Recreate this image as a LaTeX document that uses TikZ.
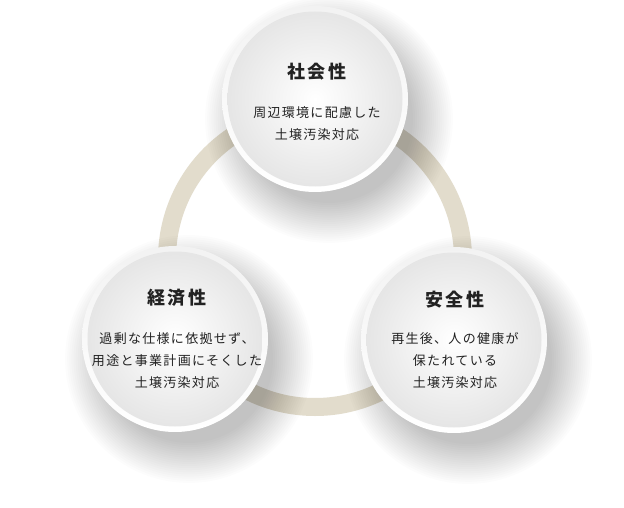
\documentclass[tikz,border=0pt]{standalone}
\usepackage{fontspec}
\newfontfamily\cjk{Noto Sans CJK JP}
\definecolor{ringc}{RGB}{226,220,204}
\definecolor{txt}{RGB}{34,34,34}
\tikzset{
  bubble/.style={circle, minimum size=186pt, inner sep=0pt, draw=none, top color=black!5, bottom color=white, shading angle=0},
  core/.style={circle, minimum size=175pt, inner sep=0pt, draw=none, inner color=white, outer color=black!10},
  ttl/.style={font=\cjk\bfseries\addfontfeature{LetterSpace=12}\fontsize{18}{22}\selectfont, text=txt, inner sep=0pt},
  body/.style={font=\cjk\addfontfeature{LetterSpace=10}\fontsize{13}{22}\selectfont, text=txt, align=center, inner sep=0pt},
}
\begin{document}
\begin{tikzpicture}[x=1pt,y=-1pt]
\useasboundingbox[fill=white] (0,0) rectangle (624,508);
\coordinate (ctr) at (315,259);
% ring
\draw[ringc, line width=18pt] (ctr) circle [radius=148pt];
% shadows
\foreach \a/\b in {315/99,175/339,454/340}{
  \foreach \k in {0,...,19}{
    \fill[black, opacity=0.011] (\a+14,\b+20) circle [radius={84pt+2.1pt*\k}];
  }
}
% circles
\node[bubble] (soc) at (315,99) {};
\node[bubble] (eco) at (175,339) {};
\node[bubble] (saf) at (454,340) {};
\node[core] (socin) at (soc) {};
\node[core] (ecoin) at (eco) {};
\node[core] (safin) at (saf) {};
% texts
\node[ttl] (soct) at (317,72) {社会性};
\node[body] (socb) at (317,124) {周辺環境に配慮した\\土壌汚染対応};
\node[ttl] (ecot) at (177,298) {経済性};
\node[body] (ecob) at (177,361) {過剰な仕様に依拠せず、\\用途と事業計画にそくした\\土壌汚染対応};
\node[ttl] (saft) at (455,300) {安全性};
\node[body] (safb) at (455,361) {再生後、人の健康が\\保たれている\\土壌汚染対応};
\end{tikzpicture}
\end{document}
